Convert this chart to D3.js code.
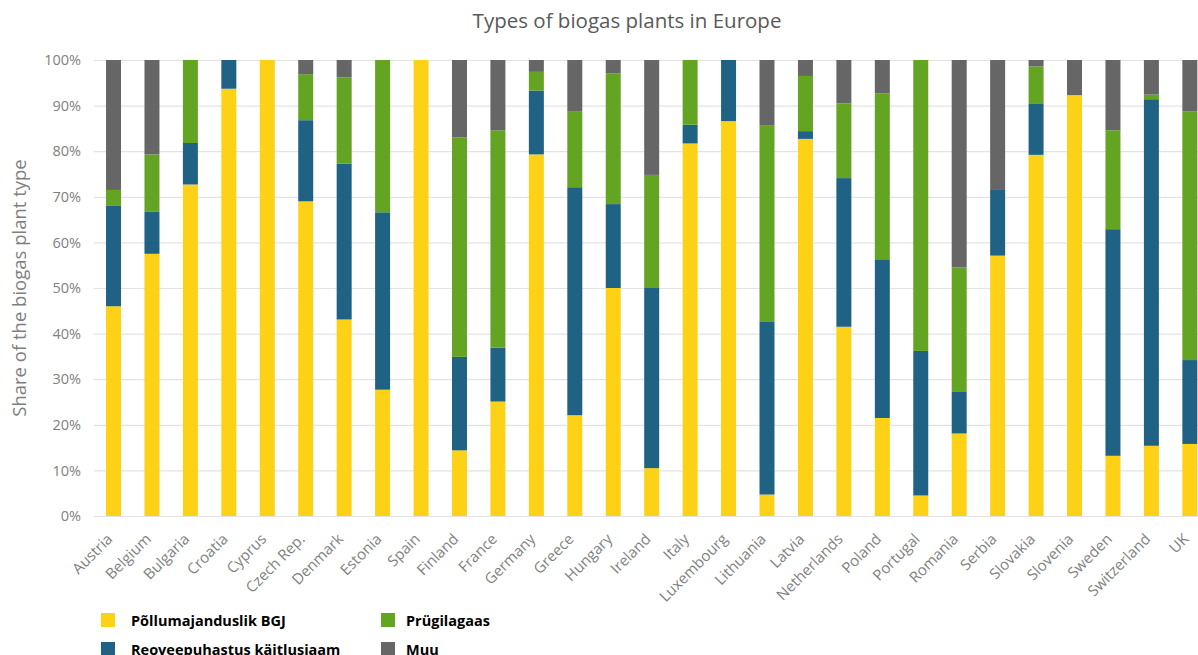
<!DOCTYPE html>
<html>
<head>
<meta charset="utf-8">
<script src="https://cdn.jsdelivr.net/npm/d3@7"></script>
<style>
  html, body { margin: 0; padding: 0; background: #fff; }
  svg { display: block; font-family: "Open Sans", sans-serif; }
</style>
</head>
<body>
<svg id="chart" width="1198" height="655"></svg>
<script>
const countries = ["Austria","Belgium","Bulgaria","Croatia","Cyprus","Czech Rep.","Denmark","Estonia","Spain","Finland","France","Germany","Greece","Hungary","Ireland","Italy","Luxembourg","Lithuania","Latvia","Netherlands","Poland","Portugal","Romania","Serbia","Slovakia","Slovenia","Sweden","Switzerland","UK"];
const agricultural = [46.0,57.5,72.7,93.7,100,69.0,43.1,27.7,100,14.4,25.1,79.3,22.1,50.0,10.5,81.7,86.6,4.7,82.7,41.5,21.5,4.5,18.1,57.1,79.2,92.3,13.2,15.4,15.8];
const sewage = [22.0,9.3,9.1,6.3,0,17.8,34.2,38.9,0,20.5,11.8,14.0,50.0,18.4,39.5,4.1,13.4,38.0,1.7,32.6,34.8,31.7,9.1,14.4,11.3,0,49.7,76.0,18.4];
const landfill = [3.5,12.5,18.2,0,0,10.1,18.9,33.4,0,48.1,47.7,4.1,16.7,28.7,24.8,14.2,0,42.9,12.1,16.4,36.4,63.8,27.3,0,8.1,0,21.7,1.0,54.5];
const other = [28.5,20.7,0,0,0,3.1,3.8,0,0,17.0,15.4,2.6,11.2,2.9,25.2,0,0,14.4,3.5,9.5,7.3,0,45.5,28.5,1.4,7.7,15.4,7.6,11.3];
const seriesNames = ["Põllumajanduslik BGJ","Reoveepuhastus käitlusjaam","Prügilagaas","Muu"];
const seriesKeys = ["agricultural","sewage","landfill","other"];
const yTicks = [0,10,20,30,40,50,60,70,80,90,100];
const titleText = "Types of biogas plants in Europe";
const yTitle = "Share of the biogas plant type";

const colors = ["#FCD116","#1F6284","#63A422","#666666"];

const rows = countries.map((c,i) => ({country:c, agricultural:agricultural[i], sewage:sewage[i], landfill:landfill[i], other:other[i]}));
rows.forEach(r => {
  const t = seriesKeys.reduce((s,k)=>s+r[k],0);
  seriesKeys.forEach(k => r[k] = r[k]/t*100);
});
const stacked = d3.stack().keys(seriesKeys)(rows);

const svg = d3.select("#chart");
const x0 = 94.3, step = 38.44;
const x = d3.scaleBand().domain(countries).range([x0, x0 + step*countries.length]).paddingInner(0.61).paddingOuter(0.305);
const y = d3.scaleLinear().domain([0,100]).range([516,60]);

// gridlines
svg.append("g").selectAll("line").data(yTicks).join("line")
  .attr("x1", 94).attr("x2", 1198)
  .attr("y1", d=>y(d)+0.5).attr("y2", d=>y(d)+0.5)
  .attr("stroke", "#E3E3E3").attr("stroke-width", 1.2);

// y axis labels
const yAxis = d3.axisLeft(y).tickValues(yTicks).tickFormat(d=>d+"%").tickSize(0).tickPadding(0);
const yg = svg.append("g").attr("transform","translate(81,0)").call(yAxis);
yg.select(".domain").remove();
yg.selectAll("text").attr("fill","#7F7F7F").style("font-size","14.5px").style("font-family","Open Sans, sans-serif");

// bars
svg.append("g").selectAll("g").data(stacked).join("g")
  .attr("fill", (d,i)=>colors[i])
  .selectAll("rect").data(d=>d).join("rect")
  .attr("x", d=>x(d.data.country))
  .attr("width", x.bandwidth())
  .attr("y", d=>y(d[1]))
  .attr("height", d=>Math.max(0, y(d[0])-y(d[1])));

// x labels
const xAxis = d3.axisBottom(x).tickSize(0).tickPadding(0);
const xg = svg.append("g").attr("transform","translate(0,516)").call(xAxis);
xg.select(".domain").remove();
xg.selectAll("text")
  .attr("fill","#7F7F7F")
  .style("font-size","15px").style("font-family","Open Sans, sans-serif")
  .attr("text-anchor","end")
  .attr("dy", null)
  .attr("y", 0)
  .attr("transform","translate(0,24) rotate(-45)");

// title
svg.append("text").attr("x", 627).attr("y", 28).attr("text-anchor","middle")
  .attr("fill","#595959").style("font-size","20.5px").text(titleText);

// y title
svg.append("text").attr("transform","translate(26,288) rotate(-90)").attr("text-anchor","middle")
  .attr("fill","#7F7F7F").style("font-size","18.5px").text(yTitle);

// legend
const legendPos = [[101,613],[101,642],[381,613],[381,642]];
const lg = svg.append("g").selectAll("g").data(seriesNames).join("g")
  .attr("transform",(d,i)=>`translate(${legendPos[i][0]},${legendPos[i][1]})`);
lg.append("rect").attr("width",14).attr("height",14).attr("fill",(d,i)=>colors[i]);
lg.append("text").attr("x", (d,i)=> i<2 ? 30 : 25).attr("y", 12.5)
  .attr("fill","#000").style("font-size","14.5px").style("font-weight","bold").text(d=>d);
</script>
</body>
</html>
